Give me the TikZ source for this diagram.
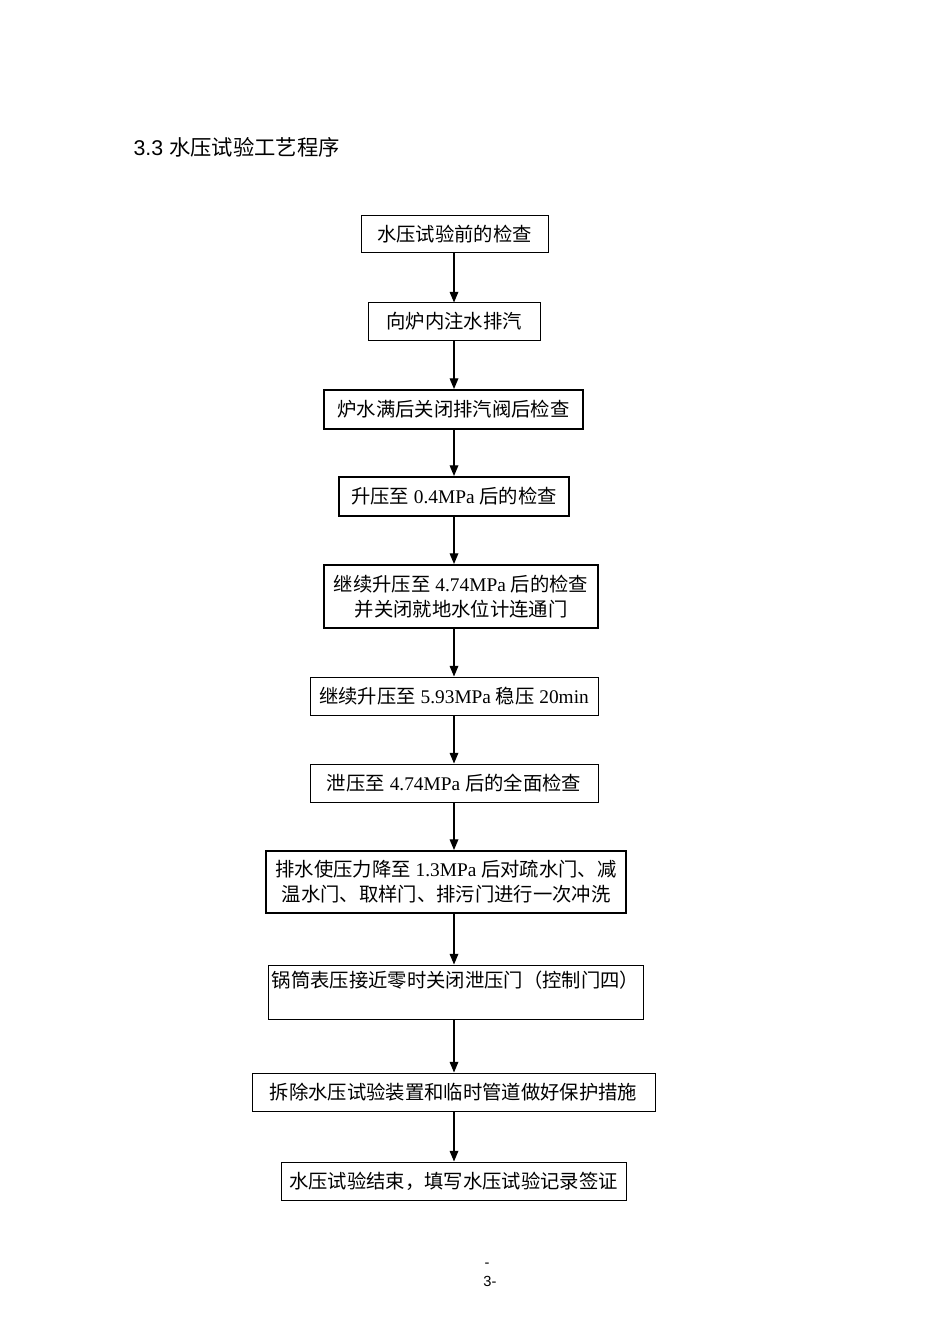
\documentclass[tikz,border=0pt]{standalone}
\usepackage{fontspec}
\setmainfont{Liberation Serif}
\newfontfamily\cjk{Noto Sans CJK SC}
\newfontfamily\headfont{Liberation Sans}
\usetikzlibrary{arrows.meta}

\newcommand{\zh}[1]{{\cjk #1}}

\tikzset{every picture/.style={line width=0.75pt}}
\tikzset{
  stepbox/.style={draw, inner sep=0pt, align=center, font=\fontsize{14.5}{18.75}\selectfont},
  heavybox/.style={stepbox, line width=1.5pt},
  flowarrow/.style={-{Triangle[length=8pt,width=6.5pt]}, line width=0.9pt},
}

\begin{document}
\begin{tikzpicture}[x=0.75pt,y=0.75pt,yscale=-1,xscale=1]
    \useasboundingbox [fill=white] (0,0) rectangle (950,1344);

    % Title
    \node [anchor=west, inner sep=0pt, font=\fontsize{16}{19}\selectfont] (title) at (133,147) {\headfont 3.3 \zh{水压试验工艺程序}};

    % Steps
    \node [stepbox, minimum width=140.25pt, minimum height=27.75pt] (s1) at (454.5,234.5) {\zh{水压试验前的检查}};
    \node [stepbox, minimum width=129pt, minimum height=27.75pt] (s2) at (454,321.5) {\zh{向炉内注水排汽}};
    \node [heavybox, minimum width=194.25pt, minimum height=29.25pt] (s3) at (453.5,409.5) {\zh{炉水满后关闭排汽阀后检查}};
    \node [heavybox, minimum width=172.5pt, minimum height=29.25pt] (s4) at (454,496.5) {\zh{升压至} 0.4MPa \zh{后的检查}};
    \node [heavybox, minimum width=205.5pt, minimum height=47.25pt] (s5) at (461,596.5) {\zh{继续升压至} 4.74MPa \zh{后的检查}\\\zh{并关闭就地水位计连通门}};
    \node [stepbox, minimum width=216pt, minimum height=28.5pt] (s6) at (454,696) {\zh{继续升压至} 5.93MPa \zh{稳压} 20min};
    \node [stepbox, minimum width=216pt, minimum height=28.5pt] (s7) at (454,783) {\zh{泄压至} 4.74MPa \zh{后的全面检查}};
    \node [heavybox, minimum width=270pt, minimum height=46.5pt] (s8) at (446,882) {\zh{排水使压力降至} 1.3MPa \zh{后对疏水门、减}\\\zh{温水门、取样门、排污门进行一次冲洗}};
    \node [stepbox, minimum width=281.25pt, minimum height=40.5pt] (s9) at (455.5,992) {\zh{锅筒表压接近零时关闭泄压门（控制门四）}\\\mbox{}};
    \node [stepbox, minimum width=302.25pt, minimum height=28.5pt] (s10) at (453.5,1092) {\zh{拆除水压试验装置和临时管道做好保护措施}};
    \node [stepbox, minimum width=258.75pt, minimum height=28.5pt] (s11) at (453.5,1181) {\zh{水压试验结束，填写水压试验记录签证}};

    % Arrows
    \coordinate (ax) at (454,0);
    \foreach \a/\b in {s1/s2,s2/s3,s3/s4,s4/s5,s5/s6,s6/s7,s7/s8,s8/s9,s9/s10,s10/s11}
        \draw [flowarrow] (\a.south -| ax) -- (\b.north -| ax);

    % Page number
    \node [inner sep=0pt, font=\fontsize{11}{13}\selectfont] (dash) at (487,1265) {\headfont -};
    \node [inner sep=0pt, font=\fontsize{11}{13}\selectfont] (page) at (490,1281) {\headfont 3-};

\end{tikzpicture}
\end{document}
